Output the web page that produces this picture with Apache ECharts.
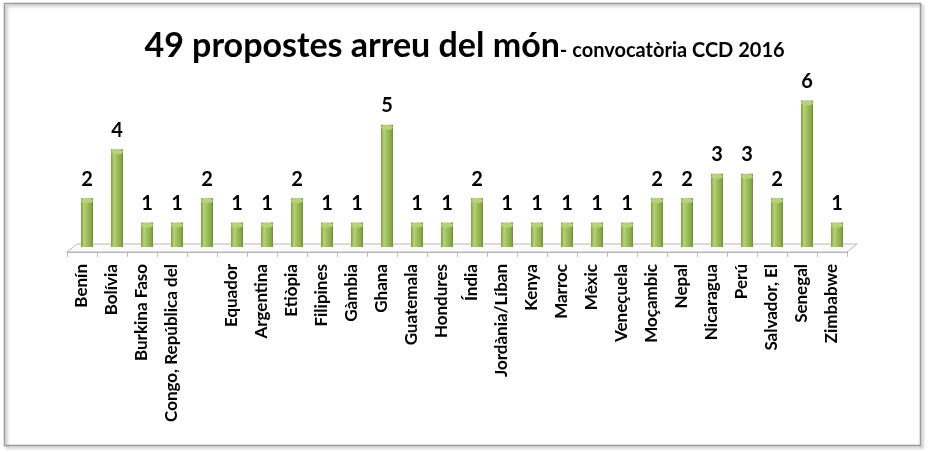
<!DOCTYPE html>
<html>
<head>
<meta charset="utf-8">
<script src="https://cdn.jsdelivr.net/npm/echarts@6/dist/echarts.min.js"></script>
<style>
html,body{margin:0;padding:0;background:#fff;}
#main{width:929px;height:452px;}
</style>
</head>
<body>
<div id="main"></div>
<script>
const categories = ['Benín','Bolívia','Burkina Faso','Congo, República del','','Equador','Argentina','Etiòpia','Filipines','Gàmbia','Ghana','Guatemala','Hondures','Índia','Jordània/Líban','Kenya','Marroc','Mèxic','Veneçuela','Moçambic','Nepal','Nicaragua','Perú','Salvador, El','Senegal','Zimbabwe'];
const values = [2,4,1,1,2,1,1,2,1,1,5,1,1,2,1,1,1,1,1,2,2,3,3,2,6,1];
const titleMain = '49 propostes arreu del món';
const titleSub = '- convocatòria CCD 2016';

const FONT = 'Lato';
const chart = echarts.init(document.getElementById('main'), null, {renderer:'canvas'});

// layout constants
const barLeft = 72, barRight = 77, gridTop = 76, barBase = 247;
const frontLeft = 67, frontRight = 82, frontY = 252;
const depth = 8, shiftX = 10;

const barGrad = new echarts.graphic.LinearGradient(0,0,1,0,[
  {offset:0, color:'#7d9c3e'},
  {offset:0.25, color:'#b6d27a'},
  {offset:0.5, color:'#a0c05e'},
  {offset:0.85, color:'#89a948'},
  {offset:1, color:'#6c8a32'}
]);

const option = {
  backgroundColor:'#ffffff',
  animation:false,
  title:{
    text:'{a|'+titleMain+'}{b|'+titleSub+'}',
    left:'center',
    top:24,
    textStyle:{
      rich:{
        a:{fontFamily:FONT,fontWeight:'bold',fontSize:34,color:'#000'},
        b:{fontFamily:FONT,fontWeight:'bold',fontSize:20,color:'#000',verticalAlign:'bottom',padding:[0,0,2,0]}
      }
    }
  },
  graphic:[
    {type:'rect', shape:{x:4.5,y:3.5,width:916,height:442}, style:{fill:'none',stroke:'#9a9a9a',lineWidth:1.5,shadowBlur:3,shadowOffsetX:2,shadowOffsetY:2,shadowColor:'rgba(0,0,0,0.35)'}, z:-10},
    {type:'polygon', shape:{points:[[frontLeft,frontY],[frontLeft+shiftX,frontY-depth],[929-frontRight+shiftX,frontY-depth],[929-frontRight,frontY]]}, style:{fill:'#fbfbfb',stroke:'#b8b8b8',lineWidth:1}, z:-5}
  ],
  grid:[
    {left:barLeft, right:barRight, top:gridTop, bottom:452-barBase},
    {left:frontLeft, right:frontRight, top:gridTop, bottom:452-frontY}
  ],
  xAxis:[
    {type:'category', gridIndex:0, data:categories, axisLine:{show:false}, axisTick:{show:false}, axisLabel:{show:false}, splitLine:{show:false}},
    {type:'category', gridIndex:1, data:categories, axisLine:{show:true,lineStyle:{color:'#b8b8b8',width:1}},
      axisTick:{show:true,length:5,lineStyle:{color:'#b8b8b8'}},
      axisLabel:{show:true,rotate:90,interval:0,margin:12,fontFamily:FONT,fontWeight:'bold',fontSize:17,color:'#000'}}
  ],
  yAxis:[
    {type:'value', gridIndex:0, min:0, max:7, show:false, splitLine:{show:false}},
    {type:'value', gridIndex:1, min:0, max:7, show:false, splitLine:{show:false}}
  ],
  series:[
    {type:'bar', xAxisIndex:0, yAxisIndex:0, data:values, barWidth:12, barGap:'-100%',
      itemStyle:{color:barGrad},
      label:{show:true, position:'top', distance:9, fontFamily:FONT, fontWeight:'bold', fontSize:20, color:'#000'}, z:3},
    {type:'pictorialBar', xAxisIndex:0, yAxisIndex:0, data:values, symbol:'circle', symbolSize:[12,5], symbolPosition:'end', symbolOffset:[0,0],
      itemStyle:{color:'#b7d17c', borderColor:'#7d9c3e', borderWidth:0.6}, z:4},
    {type:'pictorialBar', xAxisIndex:0, yAxisIndex:0, data:values, symbol:'circle', symbolSize:[12,5], symbolPosition:'start', symbolOffset:[0,0],
      itemStyle:{color:barGrad}, z:2}
  ]
};
chart.setOption(option);
</script>
</body>
</html>
